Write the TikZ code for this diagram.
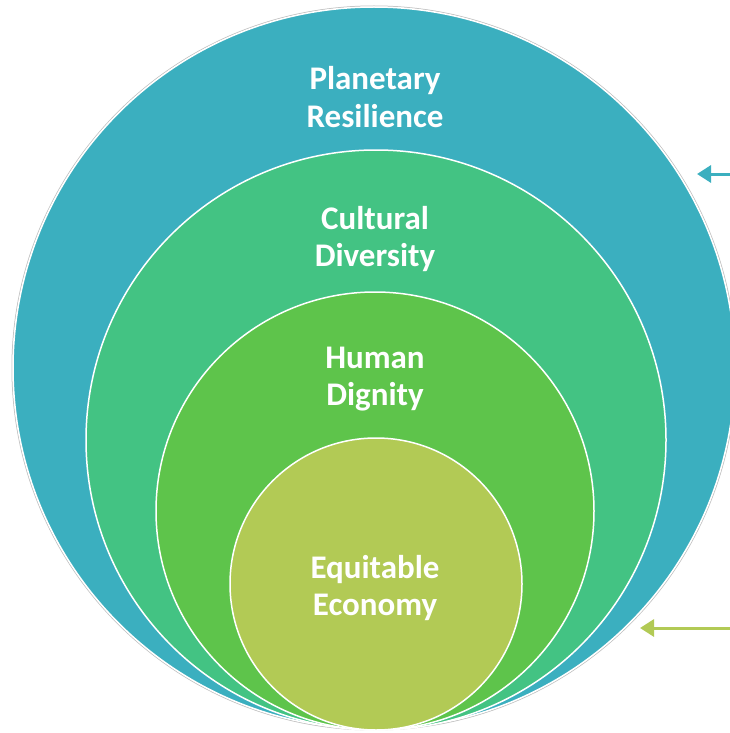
\documentclass[tikz,border=0pt]{standalone}
\usepackage{fontspec}
\setmainfont{Carlito}
\usetikzlibrary{arrows.meta}
\definecolor{cTeal}{HTML}{3BAFBF}
\definecolor{cSea}{HTML}{43C383}
\definecolor{cGreen}{HTML}{5EC44B}
\definecolor{cLime}{HTML}{B2CA55}
\tikzset{
  ring/.style={circle, inner sep=0pt, draw=white, line width=1.5pt},
  lbl/.style={text=white, font=\bfseries\fontsize{33}{37.5}\selectfont, align=center},
  pointer/.style={line width=3pt, -{Triangle[length=14pt,width=17pt]}}
}
\begin{document}
\begin{tikzpicture}[x=1pt,y=-1pt]
\useasboundingbox (0,0) rectangle (730,733);
\node[circle, inner sep=0pt, minimum size=724pt, draw=black!25, line width=1pt] (shadow) at (374,368) {};
\node[ring, minimum size=722pt, fill=cTeal, draw=white] (outer) at (374,368) {};
\node[ring, minimum size=580pt, fill=cSea] (second) at (376,440) {};
\node[ring, minimum size=438pt, fill=cGreen] (third) at (375,511) {};
\node[ring, minimum size=292pt, fill=cLime] (inner) at (376,584) {};
\node[lbl] (t1) at (375,97) {Planetary\\Resilience};
\node[lbl] (t2) at (375,239) {Cultural\\Diversity};
\node[lbl] (t3) at (375,379) {Human\\Dignity};
\node[lbl] (t4) at (375,588) {Equitable\\Economy};
\coordinate (a1s) at (731,174);
\coordinate (a1e) at (697,174);
\coordinate (a2s) at (731,628);
\coordinate (a2e) at (640,628);
\draw[pointer, draw=cTeal, fill=cTeal] (a1s) -- (a1e);
\draw[pointer, draw=cLime, fill=cLime] (a2s) -- (a2e);
\end{tikzpicture}
\end{document}
